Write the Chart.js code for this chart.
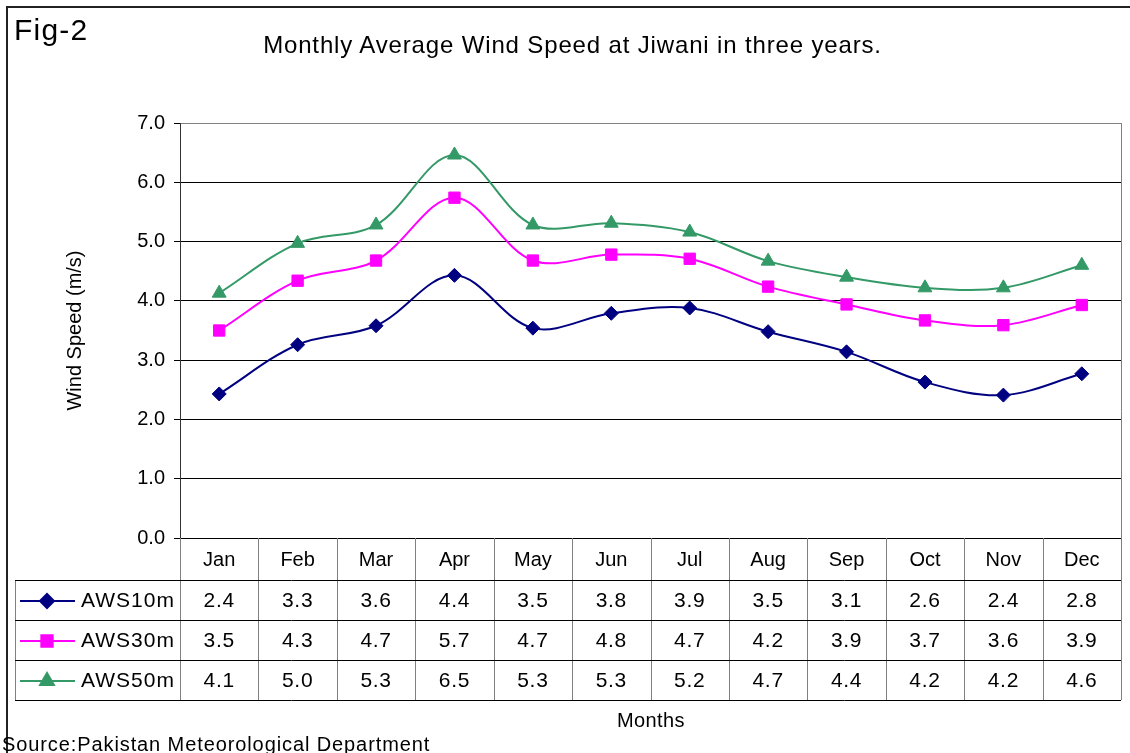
<!DOCTYPE html>
<html>
<head>
<meta charset="utf-8">
<script src="https://cdn.jsdelivr.net/npm/chart.js@4.4.1/dist/chart.umd.min.js"></script>
<style>
  html, body { margin: 0; padding: 0; background: #fff; }
  #wrap { position: relative; width: 1130px; height: 753px; overflow: hidden; font-family: "Liberation Sans", Arial, sans-serif; color: #000; }
  #frame { position: absolute; left: 6px; top: 6px; width: 1200px; height: 800px; border-left: 2px solid #222; border-top: 2px solid #222; }
  canvas { position: absolute; left: 0; top: 0; }
  .txt { position: absolute; white-space: nowrap; line-height: 1; }
  #fig { left: 14px; top: 15px; font-size: 30px; letter-spacing: 1.2px; }
  #title { left: 0; width: 1145px; text-align: center; top: 33px; font-size: 24px; letter-spacing: 0.85px; }
  #months { left: 0; width: 1302px; text-align: center; top: 710px; font-size: 20px; letter-spacing: 0.4px; }
  #source { left: 2px; top: 734px; font-size: 20px; letter-spacing: 0.9px; }
</style>
</head>
<body>
<div id="wrap">
  <div id="frame"></div>
  <canvas id="c" width="1130" height="753"></canvas>
  <div class="txt" id="fig">Fig-2</div>
  <div class="txt" id="title">Monthly Average Wind Speed at Jiwani in three years.</div>
  <div class="txt" id="months">Months</div>
  <div class="txt" id="source">Source:Pakistan Meteorological Department</div>
</div>
<script>
const categories = ['Jan','Feb','Mar','Apr','May','Jun','Jul','Aug','Sep','Oct','Nov','Dec'];
const aws10 = [2.43, 3.26, 3.58, 4.43, 3.54, 3.79, 3.88, 3.48, 3.14, 2.63, 2.41, 2.77];
const aws30 = [3.50, 4.34, 4.68, 5.74, 4.68, 4.78, 4.71, 4.24, 3.94, 3.67, 3.59, 3.93];
const aws50 = [4.13, 4.97, 5.28, 6.46, 5.28, 5.31, 5.16, 4.67, 4.40, 4.22, 4.22, 4.60];
const seriesNames = ['AWS10m', 'AWS30m', 'AWS50m'];
const yTicks = [0, 1, 2, 3, 4, 5, 6, 7];

const FONT = '"Liberation Sans", Arial, sans-serif';

const tablePlugin = {
  id: 'dataTable',
  afterDraw(chart) {
    const ctx = chart.ctx;
    const ca = chart.chartArea;
    const xs = chart.scales.x;
    const n = categories.length;
    const colW = (ca.right - ca.left) / n;
    const headerBottom = 580;
    const rowH = 40;
    const tableBottom = headerBottom + rowH * chart.data.datasets.length;
    const legendLeft = 15;
    ctx.save();
    ctx.strokeStyle = '#808080';
    ctx.lineWidth = 1;
    ctx.beginPath();
    for (let i = 0; i <= n; i++) {
      const xx = Math.round(ca.left + i * colW) + 0.5;
      ctx.moveTo(xx, ca.bottom);
      ctx.lineTo(xx, tableBottom);
    }
    ctx.moveTo(legendLeft + 0.5, headerBottom);
    ctx.lineTo(legendLeft + 0.5, tableBottom);
    ctx.moveTo(Math.round(ca.right) + 0.5, ca.top);
    ctx.lineTo(Math.round(ca.right) + 0.5, tableBottom);
    ctx.stroke();
    ctx.strokeStyle = '#000';
    ctx.beginPath();
    for (let r = 0; r <= chart.data.datasets.length; r++) {
      const yy = headerBottom + r * rowH + 0.5;
      ctx.moveTo(legendLeft, yy);
      ctx.lineTo(ca.right, yy);
    }
    ctx.stroke();
    ctx.fillStyle = '#000';
    ctx.textAlign = 'center';
    ctx.textBaseline = 'middle';
    ctx.font = '20px ' + FONT;
    categories.forEach((c, i) => {
      ctx.fillText(c, xs.getPixelForValue(i), (ca.bottom + headerBottom) / 2 + 1);
    });
    chart.data.datasets.forEach((ds, r) => {
      const cy = headerBottom + r * rowH + rowH / 2 + 1;
      ctx.strokeStyle = ds.borderColor;
      ctx.lineWidth = 2;
      ctx.beginPath();
      ctx.moveTo(20, cy);
      ctx.lineTo(75, cy);
      ctx.stroke();
      ctx.fillStyle = ds.backgroundColor;
      ctx.strokeStyle = ds.borderColor;
      Chart.helpers.drawPoint(ctx, {pointStyle: ds.pointStyle, radius: ds.pointRadius, rotation: 0, borderWidth: 1}, 47, cy);
      ctx.fillStyle = '#000';
      ctx.textAlign = 'left';
      ctx.font = '21px ' + FONT;
      ctx.letterSpacing = '1px';
      ctx.fillText(ds.label, 81, cy);
      ctx.textAlign = 'center';
      ctx.letterSpacing = '0.7px';
      ds.data.forEach((v, i) => {
        ctx.fillText(v.toFixed(1), xs.getPixelForValue(i), cy);
      });
      ctx.letterSpacing = '0px';
    });
    ctx.restore();
  }
};

function mk(label, data, color, style, radius) {
  return {
    label, data,
    borderColor: color, backgroundColor: color,
    borderWidth: 2, tension: 0.35,
    pointStyle: style, pointRadius: radius, pointHoverRadius: radius,
    pointBorderWidth: 1, pointBackgroundColor: color, pointBorderColor: color,
    fill: false
  };
}

new Chart(document.getElementById('c'), {
  type: 'line',
  data: {
    labels: categories,
    datasets: [
      mk(seriesNames[0], aws10, '#000080', 'rectRot', 7),
      mk(seriesNames[1], aws30, '#FF00FF', 'rect', 8),
      mk(seriesNames[2], aws50, '#339966', 'triangle', 8)
    ]
  },
  plugins: [tablePlugin],
  options: {
    responsive: false,
    animation: false,
    devicePixelRatio: 1,
    events: [],
    layout: { padding: { left: 60, right: 9, top: 123, bottom: 215 } },
    plugins: { legend: { display: false }, tooltip: { enabled: false }, title: { display: false } },
    scales: {
      x: {
        type: 'category',
        offset: true,
        ticks: { display: false },
        grid: { display: false },
        border: { display: false },
        afterFit(s) { s.height = 0; }
      },
      y: {
        min: yTicks[0], max: yTicks[yTicks.length - 1],
        afterBuildTicks(s) { s.ticks = yTicks.map(v => ({ value: v })); },
        ticks: {
          callback: v => Number(v).toFixed(1),
          font: { family: FONT, size: 20 },
          color: '#000',
          padding: 9
        },
        grid: {
          color: c => (c.tick && c.tick.value === 7) ? '#808080' : '#000',
          tickColor: '#000',
          tickLength: 6,
          lineWidth: 1
        },
        border: { color: '#333', width: 1 },
        title: {
          display: true,
          text: 'Wind Speed (m/s)',
          font: { family: FONT, size: 20 },
          color: '#000',
          padding: { top: 3, bottom: 0 }
        },
        afterFit(s) { s.width = 120; }
      }
    }
  }
});
</script>
</body>
</html>
